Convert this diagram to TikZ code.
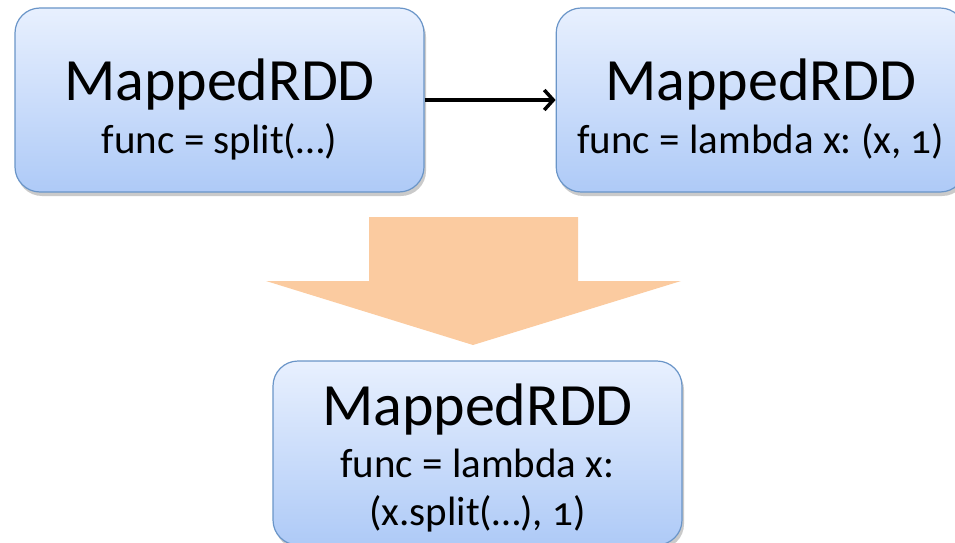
\documentclass[tikz,border=0pt]{standalone}
\usepackage{fontspec}
\setmainfont{Carlito}[Numbers=OldStyle]
\usetikzlibrary{positioning,calc,shadows,arrows.meta}
\definecolor{boxtop}{HTML}{E8F0FE}
\definecolor{boxbottom}{HTML}{AECAF7}
\definecolor{boxline}{HTML}{6A95C8}
\definecolor{fuse}{HTML}{FBCBA0}
\frenchspacing

\begin{document}
\begin{tikzpicture}
                [x=1pt,y=-1pt,
                rdd/.style={rounded corners=25pt,draw=boxline,line width=1.2pt,
                    top color=boxtop,bottom color=boxbottom,
                    minimum width=409pt,minimum height=184pt,
                    drop shadow={shadow xshift=2pt,shadow yshift=-4pt,opacity=.35,fill=black!60}},
                title/.style={anchor=base,inner sep=0pt,font=\fontsize{60}{60}\selectfont},
                sub/.style={anchor=base,inner sep=0pt,font=\fontsize{41}{41}\selectfont}]
                \useasboundingbox (0,0) rectangle (955,543);
                \node[rdd] (m1) at (219.5,100) {};
                \node[rdd] (m2)[right=131pt of m1] {};
                \node[rdd] (m3) at (477.5,453) {};
                \node[title] (t1) at (m1.center) {MappedRDD};
                \node[sub] (s1) at ($(m1.center)+(0,53)$) {func = split(…)};
                \node[title] (t2) at (m2.center) {MappedRDD};
                \node[sub] (s2) at ($(m2.center)+(0,53)$) {func = lambda x: (x, 1)};
                \node[title] (t3) at ($(m3.center)+(0,-28)$) {MappedRDD};
                \node[sub] (s3) at ($(m3.center)+(0,24)$) {func = lambda x:};
                \node[sub] (s3b) at ($(m3.center)+(0,72)$) {(x.split(…), 1)};
                \draw[line width=4pt,-{Straight Barb[length=9pt,width=20pt,line width=3.5pt]}] (m1) -- (m2);
                % fusion arrow
                \fill[fuse] (369,217) -- (578,217) -- (578,281) -- (681,281) -- (473,345)
                            -- (266,281) -- (369,281) -- cycle;
            \end{tikzpicture}
\end{document}
